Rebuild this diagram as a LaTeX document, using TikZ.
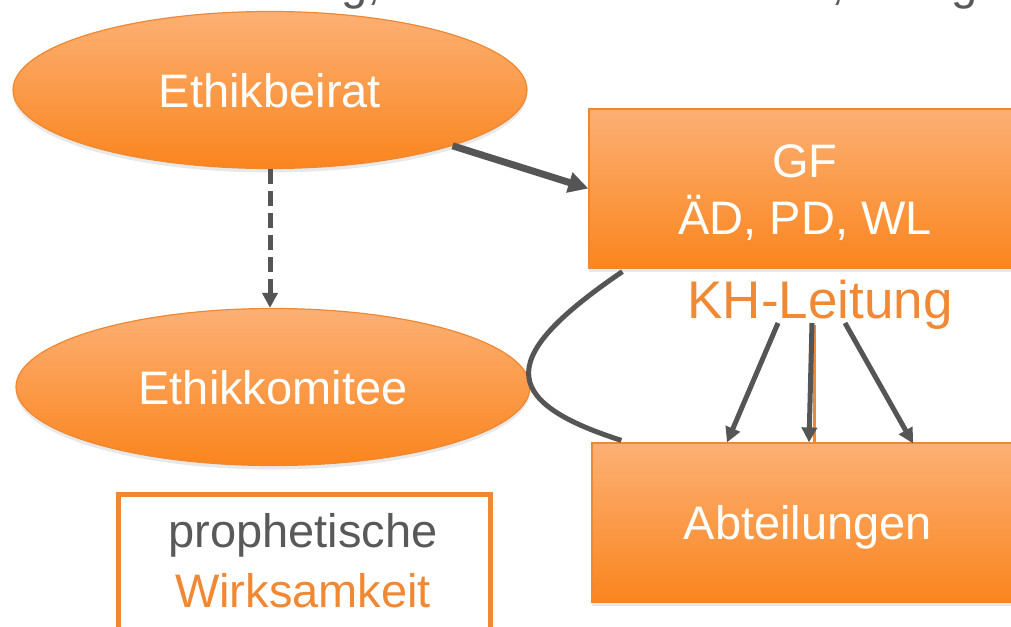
\documentclass[tikz,border=0pt]{standalone}
\usepackage{fontspec}
\setmainfont{Liberation Sans}
\usetikzlibrary{arrows.meta,shapes.geometric,shadows,calc}
\definecolor{otop}{RGB}{252,176,116}
\definecolor{obot}{RGB}{250,133,30}
\definecolor{oline}{RGB}{240,136,50}
\definecolor{otext}{RGB}{240,136,52}
\definecolor{gtext}{RGB}{89,89,89}
\definecolor{garrow}{RGB}{85,85,85}
\begin{document}
\begin{tikzpicture}[x=1pt,y=-1pt,
  big/.style={font=\fontsize{47}{57}\selectfont},
  bigger/.style={font=\fontsize{53}{60}\selectfont},
  orangeshape/.style={draw=oline, line width=1.2pt, top color=otop, bottom color=obot, inner sep=0pt, big, text=white,
    drop shadow={opacity=0.18, shadow xshift=0pt, shadow yshift=-4pt}},
  ell/.style={orangeshape, ellipse, minimum width=514pt, minimum height=157pt},
  box/.style={orangeshape, rectangle, minimum width=432pt, minimum height=159pt},
  conn/.style={draw=garrow, line width=5pt},
  arr/.style={conn, -{Triangle[length=15pt,width=15pt]}},
  capsonly/.style={text height=34pt, text depth=0pt},
  frag/.style={big, text=gtext, anchor=base west, inner sep=0pt}
]
\useasboundingbox (0,0) rectangle (1011,626);
\clip (0,0) rectangle (1011,626);

% cut-off title fragments (as in the reference)
\node[frag] (t1) at (341,0) {g,};
\node[frag] (t2) at (831,0) {,};
\node[frag] (t3) at (951,0) {g};

% shapes
\node[ell, capsonly] (eb) at (270,90) {Ethikbeirat};
\node[ell, capsonly] (ek) at (273,387) {Ethikkomitee};
\node[box] (gf) at (805,188.5) {};
\node[big, text=white, align=center, inner sep=0pt] (gft) at ($(gf.center)+(0,4)$) {GF\\ÄD, PD, WL};
\node[box, capsonly] (ab) at (808,522.5) {Abteilungen};
\node[bigger, text=otext, anchor=base, inner sep=0pt] (kh) at (820,318) {KH-Leitung};

% prophetische Wirksamkeit
\node[draw=oline, line width=5pt, fill=white, minimum width=372pt, minimum height=170pt, anchor=north, inner sep=0pt] (pwbox) at (304,492) {};
\node[big, text=gtext, anchor=base, inner sep=0pt] (pw1) at (303,547) {prophetische};
\node[big, text=otext, anchor=base, inner sep=0pt] (pw2) at (303,607) {Wirksamkeit};

% orange org line
\coordinate (ov) at (814.5,325);
\draw[oline, line width=3pt] (ov) -- (ov |- ab.north);

% connectors
\draw[draw=garrow, line width=7pt, -{Triangle[length=20pt,width=20pt]}] (eb.-17) -- (gf.west);
\draw[arr, dash pattern=on 15pt off 7pt] (eb.south) -- (eb.south |- ek.north);
\draw[conn] ($(gf.south west)+(34,3)$) .. controls (500,355) and (495,400) .. ($(ab.north west)+(30,-2)$);
\draw[arr] ($(kh.base)+(-42,5)$) -- ($(ab.north)+(-81,0)$);
\draw[arr] ($(kh.base)+(-8,5)$) -- ($(ab.north)+(1,0)$);
\draw[arr] ($(kh.base)+(25,5)$) -- ($(ab.north)+(105,1)$);
\end{tikzpicture}
\end{document}
